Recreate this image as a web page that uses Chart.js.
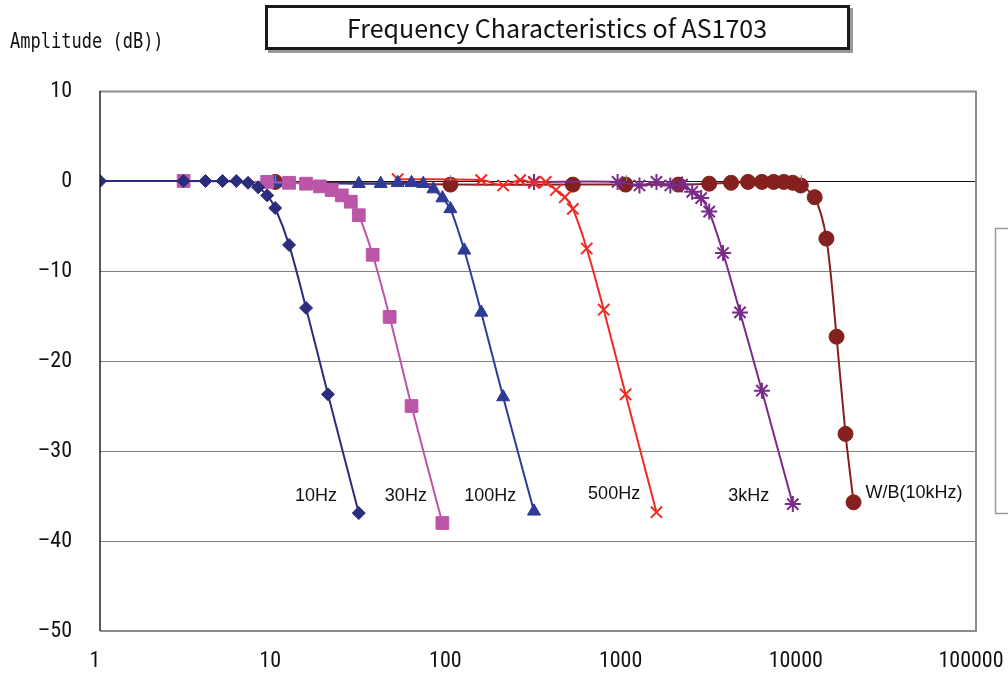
<!DOCTYPE html>
<html>
<head>
<meta charset="utf-8">
<script src="https://cdn.jsdelivr.net/npm/chart.js@4"></script>
<style>
  html, body { margin: 0; padding: 0; background: #fff; }
  #wrap { width: 1008px; height: 673px; }
</style>
</head>
<body>
<div id="wrap"><canvas id="freqChart" width="1008" height="673"></canvas></div>
<script>
// measured values (Hz / dB)
const f10 = [1, 3, 4, 5, 6, 7, 8, 9, 10, 12, 15, 20, 30]
const db10 = [0, 0, 0, 0, 0, -0.2, -0.7, -1.6, -3.0, -7.1, -14.1, -23.7, -36.9]

const f30 = [3, 9, 12, 15, 18, 21, 24, 27, 30, 36, 45, 60, 90]
const db30 = [0, -0.1, -0.2, -0.3, -0.6, -1.0, -1.6, -2.3, -3.8, -8.2, -15.1, -25.0, -38.0]

const f100 = [10, 30, 40, 50, 60, 70, 80, 90, 100, 120, 150, 200, 300]
const db100 = [-0.2, -0.3, -0.3, -0.2, -0.2, -0.3, -0.9, -1.9, -3.1, -7.7, -14.6, -24.0, -36.7]

const f500 = [50, 150, 200, 250, 300, 350, 400, 450, 500, 600, 750, 1000, 1500]
const db500 = [0.2, 0.1, -0.5, 0.1, -0.2, -0.1, -1.0, -1.8, -3.1, -7.5, -14.3, -23.7, -36.8]

const f3k = [300, 900, 1200, 1500, 1800, 2100, 2400, 2700, 3000, 3600, 4500, 6000, 9000]
const db3k = [-0.1, -0.1, -0.5, -0.1, -0.5, -0.4, -1.2, -1.9, -3.4, -8.0, -14.6, -23.3, -35.9]

const fWB = [10, 100, 500, 1000, 2000, 3000, 4000, 5000, 6000, 7000, 8000, 9000, 10000, 12000, 14000, 16000, 18000, 20000]
const dbWB = [-0.1, -0.4, -0.4, -0.4, -0.4, -0.3, -0.2, -0.1, -0.1, -0.1, -0.1, -0.2, -0.5, -1.8, -6.4, -17.3, -28.1, -35.7]

const xTickValues = [1, 10, 100, 1000, 10000, 100000]

// curve labels, placed in data coordinates
const curveLabels = ["10Hz", "30Hz", "100Hz", "500Hz", "3kHz", "W/B(10kHz)"]
const curveLabelFreq = [17.1, 55.7, 169, 860, 5045, 44260]
const curveLabelDb = [-35, -35, -35, -34.8, -35, -34.7]

function pts(xs, ys) {
  return xs.map((x, i) => ({ x: x, y: ys[i] }))
}

function series(label, xs, ys, color, style, radius, bw) {
  return {
    label: label,
    data: pts(xs, ys),
    borderColor: color,
    backgroundColor: color,
    pointStyle: style,
    pointRadius: radius,
    pointHoverRadius: radius,
    pointBorderWidth: bw,
    borderWidth: 2,
    tension: 0.3,
    fill: false,
  }
}

const decor = {
  id: "decor",
  beforeDraw(chart) {
    const ctx = chart.ctx
    ctx.save()
    ctx.fillStyle = "#fff"
    ctx.fillRect(0, 0, chart.width, chart.height)
    ctx.restore()
  },
  afterDatasetsDraw(chart) {
    const ctx = chart.ctx
    const a = chart.chartArea
    const xs = chart.scales.x
    const ys = chart.scales.y
    ctx.save()

    // plot frame
    ctx.strokeStyle = "#8c8c8c"
    ctx.lineWidth = 2
    ctx.beginPath()
    ctx.moveTo(a.left, a.top + 0.5)
    ctx.lineTo(a.right, a.top + 0.5)
    ctx.lineTo(a.right, a.bottom)
    ctx.lineTo(a.left, a.bottom)
    ctx.stroke()
    ctx.strokeStyle = "#222"
    ctx.lineWidth = 1.5
    ctx.beginPath()
    ctx.moveTo(a.left, a.top)
    ctx.lineTo(a.left, a.bottom)
    ctx.stroke()

    // decade tick marks on the 0 dB axis
    const y0 = ys.getPixelForValue(0)
    ctx.strokeStyle = "#888"
    ctx.lineWidth = 1
    xTickValues.slice(1, -1).forEach((v) => {
      const px = Math.round(xs.getPixelForValue(v)) + 0.5
      ctx.beginPath()
      ctx.moveTo(px, y0 - 6)
      ctx.lineTo(px, y0)
      ctx.stroke()
    })

    // curve labels
    ctx.fillStyle = "#111"
    ctx.font = "18px 'Liberation Sans', Arial, sans-serif"
    ctx.textAlign = "center"
    ctx.textBaseline = "middle"
    curveLabels.forEach((t, i) => {
      ctx.fillText(t, xs.getPixelForValue(curveLabelFreq[i]), ys.getPixelForValue(curveLabelDb[i]))
    })

    // title box
    ctx.fillStyle = "#999"
    ctx.fillRect(268, 8, 585, 45)
    ctx.fillStyle = "#fff"
    ctx.fillRect(265, 5, 585, 45)
    ctx.strokeStyle = "#1a1a1a"
    ctx.lineWidth = 3
    ctx.strokeRect(266.5, 6.5, 582, 42)
    ctx.fillStyle = "#111"
    ctx.font = "25px 'Noto Sans CJK JP', 'DejaVu Sans', sans-serif"
    ctx.textAlign = "center"
    ctx.textBaseline = "middle"
    ctx.fillText("Frequency Characteristics of AS1703", 557, 28)

    // y axis title
    ctx.textAlign = "left"
    ctx.font = "21px 'DejaVu Sans Mono', monospace"
    ctx.save()
    ctx.translate(10, 43)
    ctx.scale(0.81, 1)
    ctx.fillText("Amplitude (dB))", 0, 0)
    ctx.restore()

    // empty legend frame cut by the right edge
    ctx.strokeStyle = "#9a9a9a"
    ctx.lineWidth = 1.5
    ctx.strokeRect(995.5, 228.5, 40, 285)
    ctx.restore()
  },
}

const tickFont = { family: "'Roboto Condensed', 'DejaVu Sans Condensed', 'Noto Sans', sans-serif", size: 22 }

function initChart() {
  const ctx = document.getElementById("freqChart").getContext("2d")
  new Chart(ctx, {
    type: "line",
    data: {
      datasets: [
        series("10Hz", f10, db10, "#2b2c7c", "rectRot", 6.5, 1),
        series("30Hz", f30, db30, "#bb55a8", "rect", 9, 1),
        series("100Hz", f100, db100, "#2f3a96", "triangle", 7.5, 1),
        series("500Hz", f500, db500, "#ee2a24", "crossRot", 8, 2),
        series("3kHz", f3k, db3k, "#7a2a88", "star", 8, 2),
        series("W/B(10kHz)", fWB, dbWB, "#84211f", "circle", 7.5, 1),
      ],
    },
    options: {
      responsive: false,
      animation: false,
      events: [],
      layout: { padding: { left: 0, right: 32, top: 91, bottom: 0 } },
      plugins: {
        legend: { display: false },
        title: { display: false },
        tooltip: { enabled: false },
      },
      scales: {
        x: {
          type: "logarithmic",
          min: 1,
          max: 100000,
          afterBuildTicks: (s) => {
            s.ticks = xTickValues.map((v) => ({ value: v }))
          },
          afterFit: (s) => {
            s.height = 42
            s.paddingLeft = 0
            s.paddingRight = 0
          },
          grid: { display: false, drawTicks: false },
          border: { display: false },
          ticks: {
            font: tickFont,
            color: "#111",
            padding: 17,
            labelOffset: -5,
            maxRotation: 0,
            autoSkip: false,
            callback: (v) => String(v),
          },
        },
        y: {
          type: "linear",
          min: -50,
          max: 10,
          afterFit: (s) => {
            s.width = 100
            s.paddingTop = 0
            s.paddingBottom = 0
          },
          grid: {
            drawTicks: false,
            color: (c) => {
              const v = c.tick.value
              if (v === 0) return "#111"
              if (v === 10 || v === -50) return "rgba(0,0,0,0)"
              return "#808080"
            },
            lineWidth: 1,
          },
          border: { display: false },
          ticks: {
            stepSize: 10,
            font: tickFont,
            color: "#111",
            padding: 28,
            callback: (v) => (v < 0 ? "\u2013" + Math.abs(v) : String(v)),
          },
        },
      },
    },
    plugins: [decor],
  })
}

document.addEventListener("DOMContentLoaded", () => {
  initChart()
})
</script>
</body>
</html>
